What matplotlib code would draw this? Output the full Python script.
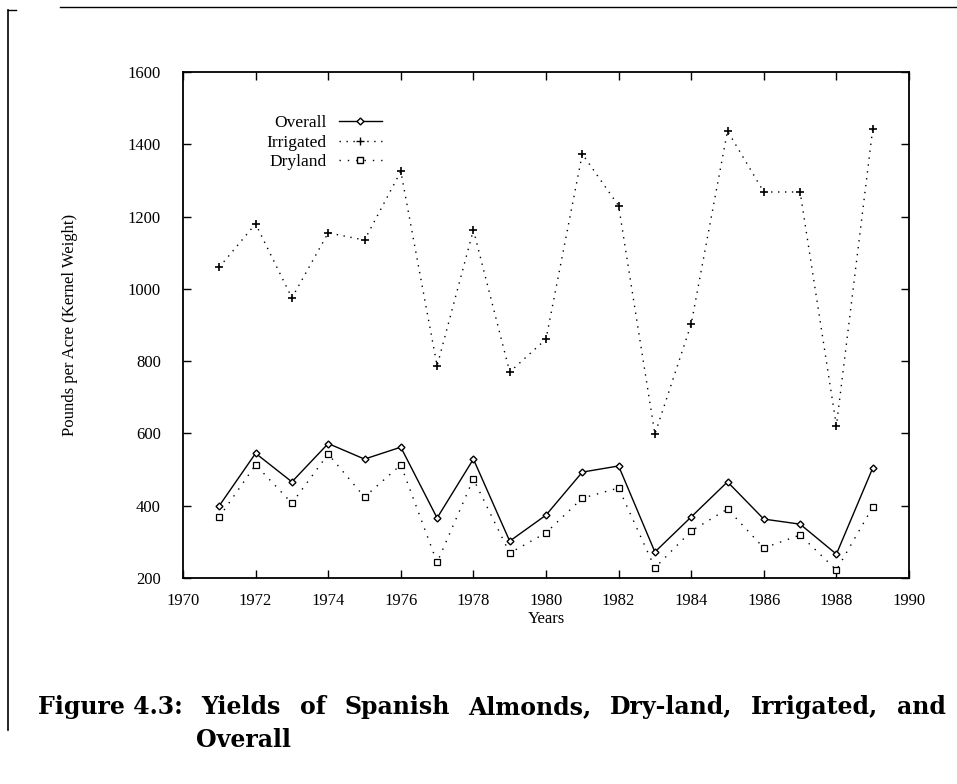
import matplotlib
matplotlib.use("Agg")
import matplotlib.pyplot as plt
from matplotlib.lines import Line2D

years = list(range(1971, 1990))
overall = [400, 545, 466, 572, 529, 562, 366, 529, 302, 374, 493, 510, 272, 369, 466, 363, 349, 266, 504]
irrigated = [1060, 1180, 975, 1155, 1135, 1325, 787, 1163, 770, 861, 1373, 1230, 598, 903, 1437, 1268, 1268, 621, 1442]
dryland = [369, 513, 407, 543, 424, 513, 243, 474, 269, 325, 421, 449, 228, 330, 391, 283, 319, 222, 396]

series_names = ["Overall", "Irrigated", "Dryland"]
x_ticks = list(range(1970, 1991, 2))
y_ticks = list(range(200, 1601, 200))
caption_words = ["Figure 4.3:", "Yields", "of", "Spanish", "Almonds,", "Dry-land,", "Irrigated,", "and"]
caption_line2 = "Overall"

plt.rcParams['font.family'] = ['Liberation Serif', 'DejaVu Serif']

W, H = 957, 784
fig = plt.figure(figsize=(W/100, H/100), dpi=100)
ax = fig.add_axes([183/W, 1-578/H, (909-183)/W, (578-72)/H])

ax.plot(years, overall, color='black', lw=1.0, ls='-', marker='D', ms=3.5,
        mfc='white', mec='black', mew=1.0)
ax.plot(years, irrigated, color='black', lw=1.0, ls=(0, (1, 4)), marker='+', ms=6, mew=1.2)
ax.plot(years, dryland, color='black', lw=1.0, ls=(0, (1, 5)), marker='s', ms=4.5,
        mfc='white', mec='black', mew=0.9)

ax.set_xlim(1970, 1990)
ax.set_ylim(200, 1600)
ax.set_xticks(x_ticks)
ax.set_yticks(y_ticks)
ax.tick_params(direction='in', top=True, right=True, length=6, width=1.0,
               labelsize=12, colors='black')
ax.tick_params(axis='y', pad=16)
ax.tick_params(axis='x', pad=11)
for s in ax.spines.values():
    s.set_linewidth(1.3)

ax.set_xlabel("Years", fontsize=12, labelpad=1)
ax.set_ylabel("Pounds per Acre (Kernel Weight)", fontsize=12, labelpad=36)

handles = [
    Line2D([], [], color='black', lw=1.0, ls='-', marker='D', ms=3.5, mfc='white', mec='black'),
    Line2D([], [], color='black', lw=1.0, ls=(0, (1, 4)), marker='+', ms=6),
    Line2D([], [], color='black', lw=1.0, ls=(0, (1, 5)), marker='s', ms=4.5, mfc='white'),
]
leg = ax.legend(handles, series_names, loc='upper left', bbox_to_anchor=(0.115, 0.915),
                frameon=False, markerfirst=False, fontsize=12.5, handlelength=2.5,
                labelspacing=0.2, handletextpad=0.7, borderaxespad=0, borderpad=0)
for t in leg.get_texts():
    t.set_ha('right')

# caption, justified first line
cap_kw = dict(fontsize=17, fontweight='bold', family=['DejaVu Serif'], va='baseline', ha='left')
renderer = fig.canvas.get_renderer()
x_left, x_right = 38, 946
texts = [fig.text(0, 1-714/H, w, **cap_kw) for w in caption_words]
widths = [t.get_window_extent(renderer).width for t in texts]
gap = (x_right - x_left - sum(widths)) / (len(texts) - 1)
x = x_left
for t, w in zip(texts, widths):
    t.set_x(x/W)
    x += w + gap
fig.text(196/W, 1-747/H, caption_line2, **cap_kw)

# scanned page border fragments
fig.add_artist(Line2D([60/W, 1.0], [1-7/H, 1-7/H], color='black', lw=1.0))
fig.add_artist(Line2D([8/W, 8/W], [1-10/H, 1-730/H], color='black', lw=1.2))
fig.add_artist(Line2D([8/W, 16/W], [1-10/H, 1-10/H], color='black', lw=1.0))

fig.savefig("out.png", dpi=100, facecolor='white')
